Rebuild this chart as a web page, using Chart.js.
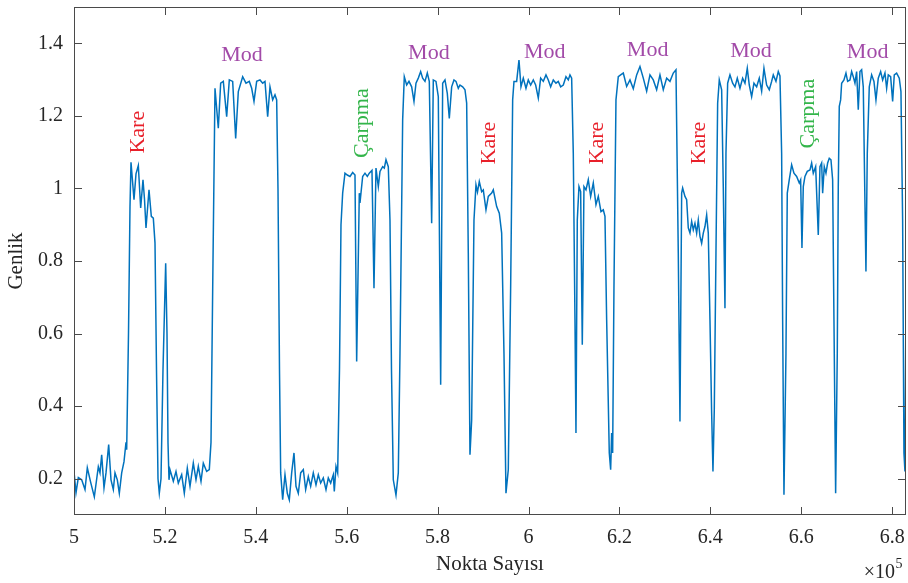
<!DOCTYPE html>
<html>
<head>
<meta charset="utf-8">
<script src="https://cdn.jsdelivr.net/npm/chart.js@4/dist/chart.umd.min.js"></script>
<style>
  html, body { margin: 0; padding: 0; background: #ffffff; }
  #wrap { width: 908px; height: 583px; position: relative; }
</style>
</head>
<body>
<div id="wrap"><canvas id="c"></canvas></div>
<script>
// Sample index of each point (Nokta Sayısı)
const nokta = [
  500000, 500440, 500950, 501690, 502420, 502930, 503670, 504470, 505350, 505720,
  506090, 506600, 507040, 507630, 508140, 508650, 509020, 509530, 509970, 510490,
  511000, 511440, 511590, 511990, 512320, 512540, 513200, 513640, 514150, 514670,
  515180, 515510, 515840, 516500, 517010, 517450, 517820, 518150, 518480, 518770,
  519140, 519580, 520170, 520460, 520680, 520900, 521120, 521850, 522440, 522950,
  523690, 524270, 524930, 525520, 526250, 526840, 527350, 527940, 528450, 529190,
  529770, 530140, 530580, 531020, 531750, 532270, 532850, 533590, 534170, 534910,
  535570, 536150, 537110, 537840, 538570, 539090, 539600, 540190, 540920, 541510,
  542020, 542610, 543120, 543710, 544220, 544590, 544880, 545210, 545470, 545910,
  546420, 546930, 547370, 547890, 548400, 548840, 549350, 549870, 550450, 550970,
  551550, 552070, 552650, 553240, 553750, 554270, 554850, 555440, 555950, 556470,
  557050, 557270, 557640, 558010, 558410, 558740, 559110, 559620, 560130, 560720,
  561310, 561820, 562190, 562770, 562920, 563510, 564020, 564530, 564970, 565560,
  566000, 566440, 566950, 567320, 567910, 568270, 568640, 569150, 569520, 569850,
  570250, 570840, 571350, 571720, 572310, 572670, 573190, 573700, 574290, 574800,
  575240, 575750, 576270, 576710, 577220, 577730, 578170, 578690, 579050, 579640,
  580150, 580670, 581110, 581620, 582130, 582570, 583090, 583600, 584040, 584550,
  584920, 585510, 586020, 586390, 586750, 587120, 587490, 588000, 588440, 588770,
  589170, 589690, 590050, 590640, 591150, 591890, 592250, 592990, 593570, 594090,
  594600, 595040, 595550, 596070, 596510, 596800, 597390, 597900, 598340, 598850,
  599440, 599950, 600470, 601050, 601570, 602150, 602670, 603250, 603840, 604350,
  604870, 605450, 606040, 606550, 607070, 607650, 608240, 608750, 609120, 609490,
  609850, 610220, 610440, 610730, 611100, 611470, 611830, 612200, 612640, 613150,
  613670, 614250, 614840, 615350, 615940, 616450, 616820, 617190, 617770, 618070,
  618290, 618510, 618800, 619240, 619750, 620270, 620850, 621590, 622320, 623050,
  623790, 624520, 625250, 625990, 626720, 627450, 628190, 628920, 629650, 630390,
  631120, 631850, 632440, 632950, 633320, 633690, 633910, 634420, 634790, 635150,
  635520, 635890, 636250, 636620, 636990, 637350, 637720, 638090, 638450, 638820,
  639190, 639550, 639920, 640290, 640580, 640870, 641240, 641610, 641970, 642490,
  642850, 643220, 643440, 643810, 644320, 644910, 645420, 645930, 646520, 647110,
  647620, 648130, 648570, 649090, 649600, 650190, 650770, 651290, 651800, 652390,
  652970, 653490, 653850, 654440, 654950, 655320, 655690, 655910, 656200, 656640,
  656930, 657370, 657890, 658400, 658990, 659570, 659870, 660160, 660450, 660820,
  661330, 661920, 662290, 662650, 663170, 663750, 664120, 664490, 664710, 665070,
  665440, 665810, 666170, 666540, 666910, 667200, 667570, 667930, 668150, 668370,
  668670, 668890, 669400, 669840, 670210, 670720, 671090, 671450, 671820, 672190,
  672550, 672920, 673290, 673650, 674240, 674530, 674970, 675490, 676000, 676440,
  676950, 677470, 677910, 678420, 678790, 679150, 679670, 680110, 680470, 680990,
  681570, 681940, 682310, 682600, 682820, 683150
];

// Amplitude at each sample (Genlik)
const genlik = [
  0.22, 0.161, 0.203, 0.197, 0.17, 0.23, 0.19, 0.15, 0.233, 0.216,
  0.266, 0.175, 0.216, 0.294, 0.197, 0.17, 0.216, 0.197, 0.16, 0.216,
  0.247, 0.30, 0.28, 0.6, 0.95, 1.072, 0.969, 1.04, 1.063, 0.946,
  1.024, 0.97, 0.891, 0.996, 0.923, 0.918, 0.85, 0.5, 0.2, 0.16,
  0.2, 0.5, 0.794, 0.6, 0.3, 0.197, 0.225, 0.193, 0.22, 0.188,
  0.211, 0.16, 0.229, 0.179, 0.243, 0.197, 0.234, 0.193, 0.243, 0.22,
  0.225, 0.3, 0.8, 1.276, 1.166, 1.29, 1.295, 1.198, 1.299, 1.295,
  1.138, 1.267, 1.308, 1.29, 1.295, 1.276, 1.24, 1.295, 1.299, 1.29,
  1.295, 1.198, 1.28, 1.244, 1.258, 1.244, 1.0, 0.5, 0.216, 0.142,
  0.211, 0.16, 0.142, 0.216, 0.271, 0.179, 0.16, 0.216, 0.225, 0.17,
  0.206, 0.179, 0.216, 0.183, 0.211, 0.188, 0.202, 0.17, 0.202, 0.188,
  0.211, 0.165, 0.234, 0.216, 0.5, 0.9, 0.987, 1.042, 1.037, 1.033,
  1.044, 1.037, 0.523, 0.987, 0.96, 1.033, 1.042, 1.033, 1.042, 1.05,
  0.725, 1.056, 1.005, 1.047, 1.06, 1.056, 1.079, 1.06, 0.913, 0.5,
  0.197, 0.155, 0.216, 0.546, 1.189, 1.308, 1.285, 1.295, 1.28, 1.24,
  1.29, 1.304, 1.322, 1.304, 1.295, 1.318, 1.295, 0.904, 1.299, 1.295,
  1.253, 0.459, 1.29, 1.299, 1.262, 1.193, 1.28, 1.299, 1.295, 1.276,
  1.285, 1.28, 1.272, 1.235, 0.822, 0.266, 0.362, 0.913, 1.01, 0.99,
  1.019, 0.991, 0.996, 0.941, 0.978, 0.987, 0.996, 0.95, 0.932, 0.877,
  0.546, 0.16, 0.225, 0.73, 1.244, 1.295, 1.295, 1.354, 1.28, 1.304,
  1.276, 1.299, 1.285, 1.299, 1.285, 1.249, 1.304, 1.295, 1.313, 1.299,
  1.28, 1.299, 1.29, 1.295, 1.28, 1.285, 1.308, 1.299, 1.313, 1.304,
  1.097, 0.638, 0.326, 0.913, 1.005, 0.991, 0.569, 1.005, 0.996, 1.024,
  0.978, 1.015, 0.955, 0.978, 0.936, 0.941, 0.923, 0.638, 0.271, 0.225,
  0.326, 0.271, 0.73, 1.244, 1.308, 1.313, 1.318, 1.281, 1.299, 1.275,
  1.313, 1.336, 1.304, 1.268, 1.313, 1.299, 1.272, 1.313, 1.272, 1.304,
  1.295, 1.318, 1.327, 0.822, 0.358, 0.987, 1.001, 0.978, 0.969, 0.891,
  0.877, 0.909, 0.886, 0.904, 0.877, 0.913, 0.868, 0.849, 0.877, 0.895,
  0.927, 0.877, 0.638, 0.381, 0.22, 0.39, 0.822, 1.235, 1.299, 1.272,
  1.005, 0.67, 1.097, 1.29, 1.313, 1.29, 1.28, 1.304, 1.276, 1.304,
  1.29, 1.331, 1.285, 1.253, 1.29, 1.28, 1.304, 1.268, 1.331, 1.285,
  1.272, 1.295, 1.313, 1.295, 1.322, 1.31, 1.097, 0.638, 0.156, 0.546,
  0.987, 1.024, 1.065, 1.042, 1.033, 1.015, 1.024, 0.836, 1.005, 1.033,
  1.047, 1.051, 1.07, 1.042, 1.06, 0.872, 1.06, 1.07, 0.987, 1.06,
  1.042, 1.07, 1.083, 1.079, 1.024, 0.638, 0.16, 0.546, 1.005, 1.226,
  1.244, 1.29, 1.299, 1.318, 1.295, 1.299, 1.322, 1.308, 1.29, 1.322,
  1.217, 1.322, 1.327, 1.28, 0.771, 1.097, 1.28, 1.313, 1.295, 1.244,
  1.304, 1.322, 1.299, 1.318, 1.276, 1.313, 1.308, 1.24, 1.313, 1.318,
  1.304, 1.267, 0.913, 0.271, 0.22, 0.9
];

// Axis tick positions
const xTicks = [500000, 520000, 540000, 560000, 580000, 600000, 620000, 640000, 660000, 680000];
const yTicks = [0.2, 0.4, 0.6, 0.8, 1.0, 1.2, 1.4];

// Segment annotations: text and anchor (data coordinates)
const annText = ['Kare', 'Mod', 'Çarpma', 'Mod', 'Kare', 'Mod', 'Kare', 'Mod', 'Kare', 'Mod', 'Çarpma', 'Mod'];
const annX = [514210, 536960, 563360, 578080, 591370, 603550, 615190, 626210, 637570, 648940, 661440, 674610];
const annY = [1.155, 1.368, 1.18, 1.374, 1.125, 1.376, 1.125, 1.380, 1.125, 1.377, 1.206, 1.375];

const SERIF = "'Liberation Serif', 'Times New Roman', Times, serif";
const AXIS = '#4a4a4a';
const TEXT = '#262626';
const annColor = { 'Mod': '#a24aa8', 'Kare': '#e8202a', 'Çarpma': '#33b54a' };

const points = nokta.map((v, i) => ({ x: v, y: genlik[i] }));

// Scales keep a fixed size and add no overflow padding around the plot area
function fixSize(prop, size) {
  return s => {
    s[prop] = size;
    s.paddingTop = 0; s.paddingBottom = 0; s.paddingLeft = 0; s.paddingRight = 0;
  };
}

const decorations = {
  id: 'decorations',
  afterDatasetsDraw(chart) {
    const { ctx, chartArea: a, scales: { x, y } } = chart;
    ctx.save();
    // Inward tick marks on all four sides
    ctx.strokeStyle = AXIS;
    ctx.lineWidth = 1;
    ctx.beginPath();
    const tl = 8;
    xTicks.forEach(v => {
      const px = Math.round(x.getPixelForValue(v)) + 0.5;
      ctx.moveTo(px, a.bottom); ctx.lineTo(px, a.bottom - tl);
      ctx.moveTo(px, a.top); ctx.lineTo(px, a.top + tl);
    });
    yTicks.forEach(v => {
      const py = Math.round(y.getPixelForValue(v)) + 0.5;
      ctx.moveTo(a.left, py); ctx.lineTo(a.left + tl, py);
      ctx.moveTo(a.right, py); ctx.lineTo(a.right - tl, py);
    });
    ctx.stroke();
    // Box
    ctx.strokeRect(Math.round(a.left) + 0.5, Math.round(a.top) + 0.5,
                   Math.round(a.width) - 1, Math.round(a.height) - 1);

    // Segment labels
    ctx.font = '22px ' + SERIF;
    ctx.textAlign = 'center';
    ctx.textBaseline = 'middle';
    annText.forEach((t, i) => {
      const px = x.getPixelForValue(annX[i]);
      const py = y.getPixelForValue(annY[i]);
      ctx.fillStyle = annColor[t];
      if (t === 'Mod') {
        ctx.fillText(t, px, py);
      } else {
        ctx.save();
        ctx.translate(px, py);
        ctx.rotate(-Math.PI / 2);
        ctx.fillText(t, 0, 0);
        ctx.restore();
      }
    });

    // Exponent of the x axis
    ctx.fillStyle = TEXT;
    ctx.textBaseline = 'alphabetic';
    ctx.textAlign = 'right';
    ctx.font = '20px ' + SERIF;
    const ex = a.right - 11;
    ctx.fillText('×10', ex, a.bottom + 63);
    ctx.textAlign = 'left';
    ctx.font = '14px ' + SERIF;
    ctx.fillText('5', ex + 0.5, a.bottom + 53);
    ctx.restore();
  }
};

new Chart(document.getElementById('c'), {
  type: 'line',
  data: {
    datasets: [{
      data: points,
      borderColor: '#0072bd',
      borderWidth: 1.5,
      pointRadius: 0,
      tension: 0,
      fill: false
    }]
  },
  options: {
    responsive: true,
    maintainAspectRatio: false,
    animation: false,
    devicePixelRatio: 1,
    layout: { padding: { top: 7, right: 2, left: 0, bottom: 0 } },
    plugins: { legend: { display: false }, tooltip: { enabled: false } },
    scales: {
      x: {
        type: 'linear',
        min: 500000,
        max: 683050,
        afterFit: fixSize('height', 68),
        afterBuildTicks: s => { s.ticks = xTicks.map(v => ({ value: v })); },
        grid: { display: false, drawTicks: false },
        border: { display: false },
        ticks: {
          padding: 11,
          color: TEXT,
          font: { family: SERIF, size: 20 },
          maxRotation: 0,
          autoSkip: false,
          callback: v => String(Math.round(v / 1e4) / 10)
        },
        title: {
          display: true,
          text: 'Nokta Sayısı',
          color: TEXT,
          font: { family: SERIF, size: 21 },
          padding: { top: 0, bottom: 6 }
        }
      },
      y: {
        min: 0.1,
        max: 1.5,
        afterFit: fixSize('width', 74),
        afterBuildTicks: s => { s.ticks = yTicks.map(v => ({ value: v })); },
        grid: { display: false, drawTicks: false },
        border: { display: false },
        ticks: {
          padding: 11,
          color: TEXT,
          font: { family: SERIF, size: 20 },
          autoSkip: false,
          callback: v => String(Math.round(v * 10) / 10)
        },
        title: {
          display: true,
          text: 'Genlik',
          color: TEXT,
          font: { family: SERIF, size: 21 },
          padding: { top: 4, bottom: 0 }
        }
      }
    }
  },
  plugins: [decorations]
});
</script>
</body>
</html>
